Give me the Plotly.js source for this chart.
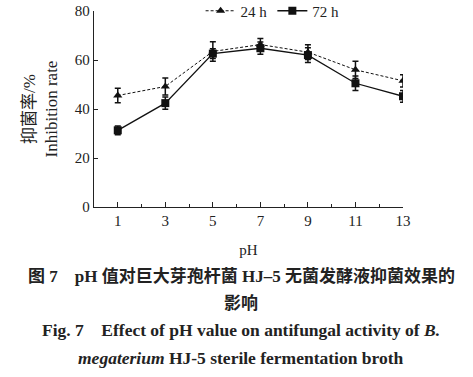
<!DOCTYPE html>
<html><head><meta charset="utf-8">
<script src="https://cdn.plot.ly/plotly-3.0.1.min.js"></script>
<style>html,body{margin:0;padding:0;background:#fff}#c{width:473px;height:377px}</style>
</head><body><div id="c"></div>
<script>
var ph = [1, 3, 5, 7, 9, 11, 13];
var h24 = [45.5, 49.2, 63.5, 66.3, 63.2, 56.0, 51.5];
var h24err = [3.0, 3.5, 4.0, 2.5, 3.0, 3.5, 2.5];
var h72 = [31.3, 42.4, 62.6, 64.8, 62.0, 50.5, 45.2];
var h72err = [1.8, 2.5, 2.0, 2.5, 3.0, 3.0, 2.4];
var xTicks = [1, 3, 5, 7, 9, 11, 13];
var yTicks = [0, 20, 40, 60, 80];
var names = ['24 h', '72 h'];
var captions = [
  '<b>图 7　pH 值对巨大芽孢杆菌 HJ–5 无菌发酵液抑菌效果的</b>',
  '<b>影响</b>',
  '<b>Fig. 7　Effect of pH value on antifungal activity of <i>B.</i></b>',
  '<b><i>megaterium</i> HJ-5 sterile fermentation broth</b>'
];

var serif = 'Liberation Serif, Noto Sans CJK SC, serif';
var traces = [
  {x: ph, y: h24, name: names[0], type: 'scatter', mode: 'lines+markers',
   line: {color: '#111', width: 1, dash: '3px,2px'},
   marker: {symbol: 'triangle-up', size: 8, color: '#111'},
   error_y: {type: 'data', array: h24err, visible: true, color: '#111', thickness: 1.5, width: 3}},
  {x: ph, y: h72, name: names[1], type: 'scatter', mode: 'lines+markers',
   line: {color: '#111', width: 1.3},
   marker: {symbol: 'square', size: 8, color: '#111'},
   error_y: {type: 'data', array: h72err, visible: true, color: '#111', thickness: 1.5, width: 3}}
];

function py(p){ return (207 - p) / 196; }
var ann = [
  {text: captions[0], y: py(276), size: 17},
  {text: captions[1], y: py(303), size: 17},
  {text: captions[2], y: py(330), size: 17.5},
  {text: captions[3], y: py(358), size: 17.5}
].map(function(a){
  return {text: a.text, xref: 'paper', yref: 'paper', x: 0.476, y: a.y,
    xanchor: 'center', yanchor: 'middle', showarrow: false,
    font: {family: serif, size: a.size, color: '#222'}};
});

var layout = {
  width: 473, height: 377,
  margin: {l: 94, r: 70, t: 11, b: 170, autoexpand: false},
  paper_bgcolor: '#fff', plot_bgcolor: '#fff',
  showlegend: true,
  legend: {orientation: 'h', x: 0.345, y: 1.0, xanchor: 'left', yanchor: 'middle',
    font: {family: serif, size: 15, color: '#222'}, bgcolor: 'rgba(0,0,0,0)',
    itemwidth: 30, tracegroupgap: 0},
  xaxis: {range: [0, 13], tickvals: xTicks, ticktext: xTicks.map(String),
    ticks: 'inside', ticklen: 5, tickcolor: '#222', showline: true, linecolor: '#222', linewidth: 1.3,
    showgrid: false, zeroline: false,
    minor: {tickvals: [2, 4, 6, 8, 10, 12], ticks: 'inside', ticklen: 3, tickcolor: '#222'},
    tickfont: {family: serif, size: 15, color: '#222'},
    title: {text: 'pH', font: {family: serif, size: 15, color: '#222'}, standoff: 16}},
  yaxis: {range: [0, 80], tickvals: yTicks, ticks: 'inside', ticklen: 4, tickcolor: '#222',
    showline: true, linecolor: '#222', linewidth: 1.3, showgrid: false, zeroline: false,
    tickfont: {family: serif, size: 15, color: '#222'},
    title: {text: '抑菌率/%<br>Inhibition rate', font: {family: serif, size: 17, color: '#222'}, standoff: 12}},
  annotations: ann
};
Plotly.newPlot('c', traces, layout, {displayModeBar: false, staticPlot: true});
</script></body></html>
